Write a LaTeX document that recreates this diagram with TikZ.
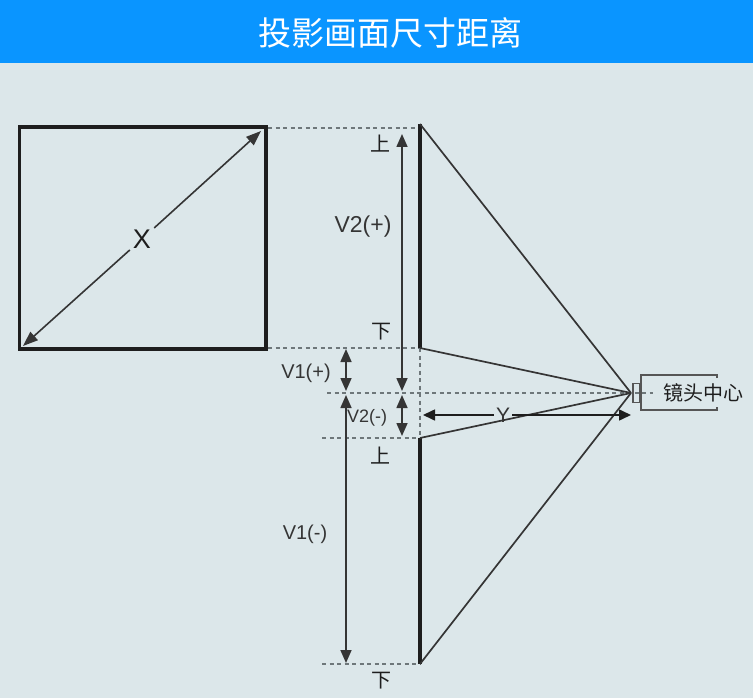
\documentclass[tikz,border=0pt]{standalone}
\usepackage{fontspec}
\setmainfont{Liberation Sans}
\newfontfamily\cjk{Noto Sans CJK SC}
\usetikzlibrary{arrows.meta}
\definecolor{bgc}{HTML}{DCE7EA}
\definecolor{barc}{HTML}{0A95FF}
\definecolor{ink}{HTML}{1E1E1E}
\definecolor{dashc}{HTML}{6E777A}
\tikzset{
  heavy/.style={draw=ink,line width=3.4pt},
  ray/.style={draw=ink!90,line width=1.7pt},
  guide/.style={draw=dashc,line width=1.1pt,dash pattern=on 4pt off 3.5pt},
  dim/.style={draw=ink!90,line width=1.6pt,{Triangle[length=13pt,width=11pt]}-{Triangle[length=13pt,width=11pt]}},
  lbl/.style={text=ink!90,inner sep=0pt,font=\fontsize{20}{22}\selectfont},
  cn/.style={text=ink,inner sep=0pt,font=\fontsize{20}{22}\selectfont\cjk},
  lens/.style={draw=ink!75,line width=1.4pt},
}
\begin{document}
\begin{tikzpicture}[x=1pt,y=-1pt]
\useasboundingbox (0,0) rectangle (753,698);
\fill[bgc] (0,0) rectangle (753,698);
\fill[barc] (0,0) rectangle (753,63);
\node[inner sep=0pt,text=white,font=\fontsize{33}{36}\selectfont\cjk] (title) at (390,33) {投影画面尺寸距离};

% left screen
\node[draw=ink,line width=3.4pt,minimum width=246.5pt,minimum height=222pt,inner sep=0pt,anchor=north west] (box) at (17.8,125.3) {};
\node[inner sep=3pt,fill=bgc,text=ink,font=\fontsize{27}{29}\selectfont] (xl) at (142,239) {X};
\coordinate (bxa) at (261,131);
\coordinate (bxb) at (23,346);
\draw[draw=ink!90,line width=1.6pt,-{Triangle[length=15pt,width=11pt]}] (xl) -- (bxa);
\draw[draw=ink!90,line width=1.6pt,-{Triangle[length=15pt,width=11pt]}] (xl) -- (bxb);

% key coordinates
\coordinate (s1t) at (420,124);
\coordinate (s1m) at (420,348);
\coordinate (s2t) at (420,438);
\coordinate (s2b) at (420,664);
\coordinate (c) at (631,393);
\coordinate (gt) at (268,128);
\coordinate (gt2) at (420,128);
\coordinate (gm) at (268,348);
\coordinate (ga) at (327,393);
\coordinate (gb) at (322,438);
\coordinate (gbt) at (322,664);
\coordinate (lc) at (653,393);

% guides
\draw[guide] (gt) -- (gt2);
\draw[guide] (gm) -- (s1m);
\draw[guide] (ga) -- (lc);
\draw[guide] (gb) -- (s2t);
\draw[guide] (gbt) -- (s2b);
\draw[guide] (s1m) -- (s2t);

% screens
\draw[heavy] (s1t) -- (s1m);
\draw[heavy] (s2t) -- (s2b);

% rays
\draw[ray] (s1t) -- (c);
\draw[ray] (s1m) -- (c);
\draw[ray] (s2t) -- (c);
\draw[ray] (s2b) -- (c);

% dimension arrows
\coordinate (v2pa) at (402,134);
\coordinate (v2pb) at (402,391);
\coordinate (v2ma) at (402,395);
\coordinate (v2mb) at (402,436);
\coordinate (v1pa) at (346,349);
\coordinate (v1pb) at (346,391);
\coordinate (v1ma) at (346,395);
\coordinate (v1mb) at (346,663);
\draw[dim] (v2pa) -- (v2pb);
\draw[dim] (v2ma) -- (v2mb);
\draw[dim] (v1pa) -- (v1pb);
\draw[dim] (v1ma) -- (v1mb);

% Y
\node[lbl,inner sep=2pt,font=\fontsize{21}{23}\selectfont] (yl) at (503,415) {Y};
\coordinate (ya) at (423,415);
\coordinate (yb) at (631,415);
\draw[draw=ink,line width=1.6pt,-{Triangle[length=12pt,width=11pt]}] (yl) -- (ya);
\draw[draw=ink,line width=1.6pt,-{Triangle[length=12pt,width=11pt]}] (yl) -- (yb);

% lens
\node[lens,minimum width=7pt,minimum height=19pt,inner sep=0pt] (lenstip) at (636.5,393) {};
\coordinate (la) at (717,375);
\coordinate (lb) at (717,410);
\coordinate (lc1) at (641,375);
\coordinate (lc2) at (641,410);
\draw[lens] (717,378) -- (la) -- (lc1) -- (lc2) -- (lb) -- (717,407);
\node[cn] (lenst) at (703,393) {镜头中心};

% labels
\node[lbl,font=\fontsize{23}{25}\selectfont] (v2p) at (363,227) {V2(+)};
\node[lbl] (v1p) at (306,373) {V1(+)};
\node[lbl,font=\fontsize{18}{20}\selectfont] (v2m) at (367,418) {V2(-)};
\node[lbl] (v1m) at (305,534) {V1(-)};
\node[cn] (u1) at (380,144) {上};
\node[cn] (d1) at (381,332) {下};
\node[cn] (u2) at (380,456) {上};
\node[cn] (d2) at (381,681) {下};
\end{tikzpicture}
\end{document}
